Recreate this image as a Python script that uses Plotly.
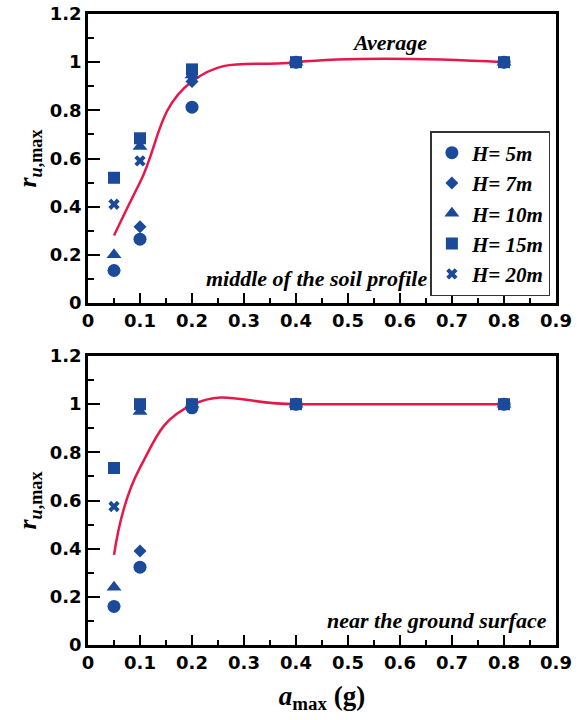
import numpy as np
import plotly.graph_objects as go
from plotly.subplots import make_subplots

# Peak ground acceleration (g)
a_max = [0.05, 0.1, 0.2, 0.4, 0.8]

# Maximum excess pore-pressure ratio, middle of the soil profile
mid_H5 = [0.135, 0.265, 0.813, 1.0, 1.0]
mid_H7 = [0.135, 0.317, 0.92, 1.0, 1.0]
mid_H10 = [0.20, 0.65, 0.947, 1.0, 1.0]
mid_H15 = [0.52, 0.684, 0.97, 1.0, 1.0]
mid_H20 = [0.41, 0.59, 0.95, 1.0, 1.0]

# Maximum excess pore-pressure ratio, near the ground surface
top_H5 = [0.16, 0.323, 0.985, 1.0, 1.0]
top_H7 = [0.16, 0.39, 1.0, 1.0, 1.0]
top_H10 = [0.24, 0.97, 1.0, 1.0, 1.0]
top_H15 = [0.735, 1.0, 1.0, 1.0, 1.0]
top_H20 = [0.575, 1.0, 1.0, 1.0, 1.0]

labels = ["H= 5m", "H= 7m", "H= 10m", "H= 15m", "H= 20m"]
symbols = ["circle", "diamond", "triangle-up", "square", "x"]
sizes = [13, 10, 13, 12, 10]

BLUE = "#1B4A9B"
RED = "#E8174B"
SERIF = "Liberation Serif"
SANS = "DejaVu Sans"

fig = make_subplots(rows=2, cols=1, vertical_spacing=0.084)

panels = [
    (1, [mid_H5, mid_H7, mid_H10, mid_H15, mid_H20]),
    (2, [top_H5, top_H7, top_H10, top_H15, top_H20]),
]

# drawing order: crosses and diamonds underneath, squares on top
order = [4, 1, 0, 2, 3]

for row, series in panels:
    avg = np.mean(np.array(series), axis=0)
    fig.add_trace(go.Scatter(
        x=a_max, y=avg, mode="lines",
        line=dict(color=RED, width=2.5, shape="spline", smoothing=1.3),
        showlegend=False, name="Average"), row=row, col=1)
    for i in order:
        fig.add_trace(go.Scatter(
            x=a_max, y=series[i], mode="markers", name=labels[i],
            marker=dict(symbol=symbols[i], size=sizes[i], color=BLUE,
                        line=dict(width=0)),
            legendrank=i + 1, showlegend=(row == 1)), row=row, col=1)

tick_font = dict(family=SANS, size=18, color="black", weight="bold")

xaxis_style = dict(
    range=[0, 0.9], tickvals=[round(0.1 * k, 1) for k in range(10)],
    ticktext=["0", "0.1", "0.2", "0.3", "0.4", "0.5", "0.6", "0.7", "0.8", "0.9"],
    ticks="inside", ticklen=10, tickwidth=2, tickcolor="black",
    minor=dict(dtick=0.05, ticks="inside", ticklen=5, tickwidth=2, tickcolor="black", showgrid=False),
    showline=True, linewidth=2.5, linecolor="black", mirror=True,
    showgrid=False, zeroline=False, automargin=False,
    tickfont=tick_font,
)
yaxis_style = dict(
    range=[0, 1.2], tickvals=[0, 0.2, 0.4, 0.6, 0.8, 1.0, 1.2],
    ticktext=["0", "0.2", "0.4", "0.6", "0.8", "1", "1.2"],
    ticks="inside", ticklen=12, tickwidth=2, tickcolor="black",
    minor=dict(dtick=0.1, ticks="inside", ticklen=6, tickwidth=2, tickcolor="black", showgrid=False),
    showline=True, linewidth=2.5, linecolor="black", mirror=True,
    showgrid=False, zeroline=False, automargin=False,
    tickfont=tick_font,
    title=dict(text="<i>r</i><sub><i>u</i>,max</sub>",
               font=dict(family=SERIF, size=26, color="black", weight="bold"),
               standoff=6),
)

fig.update_xaxes(**xaxis_style)
fig.update_yaxes(**yaxis_style)
fig.update_xaxes(title=dict(text="<i>a</i><sub>max</sub> (g)",
                            font=dict(family=SERIF, size=27, color="black", weight="bold"),
                            standoff=14), row=2, col=1)

ann_font = dict(family=SERIF, size=22, color="black", weight="bold", style="italic")
fig.add_annotation(x=0.58, y=1.08, xref="x", yref="y", text="Average",
                   showarrow=False, font=ann_font)
fig.add_annotation(x=0.655, y=0.1, xref="x", yref="y", text="middle of the soil profile",
                   showarrow=False, xanchor="right", font=ann_font)
fig.add_annotation(x=0.886, y=0.1, xref="x2", yref="y2", text="near the ground surface",
                   showarrow=False, xanchor="right", font=ann_font)

fig.update_layout(
    width=584, height=720,
    margin=dict(l=88, r=28, t=14, b=75),
    paper_bgcolor="white", plot_bgcolor="white",
    legend=dict(
        x=0.988, y=0.553, xanchor="right", yanchor="bottom",
        xref="paper", yref="paper",
        bgcolor="white", bordercolor="#333333", borderwidth=1.5,
        font=dict(family=SERIF, size=21, color="black", weight="bold", style="italic"),
        itemwidth=30, tracegroupgap=0,
    ),
)

fig.write_html("out.html")
